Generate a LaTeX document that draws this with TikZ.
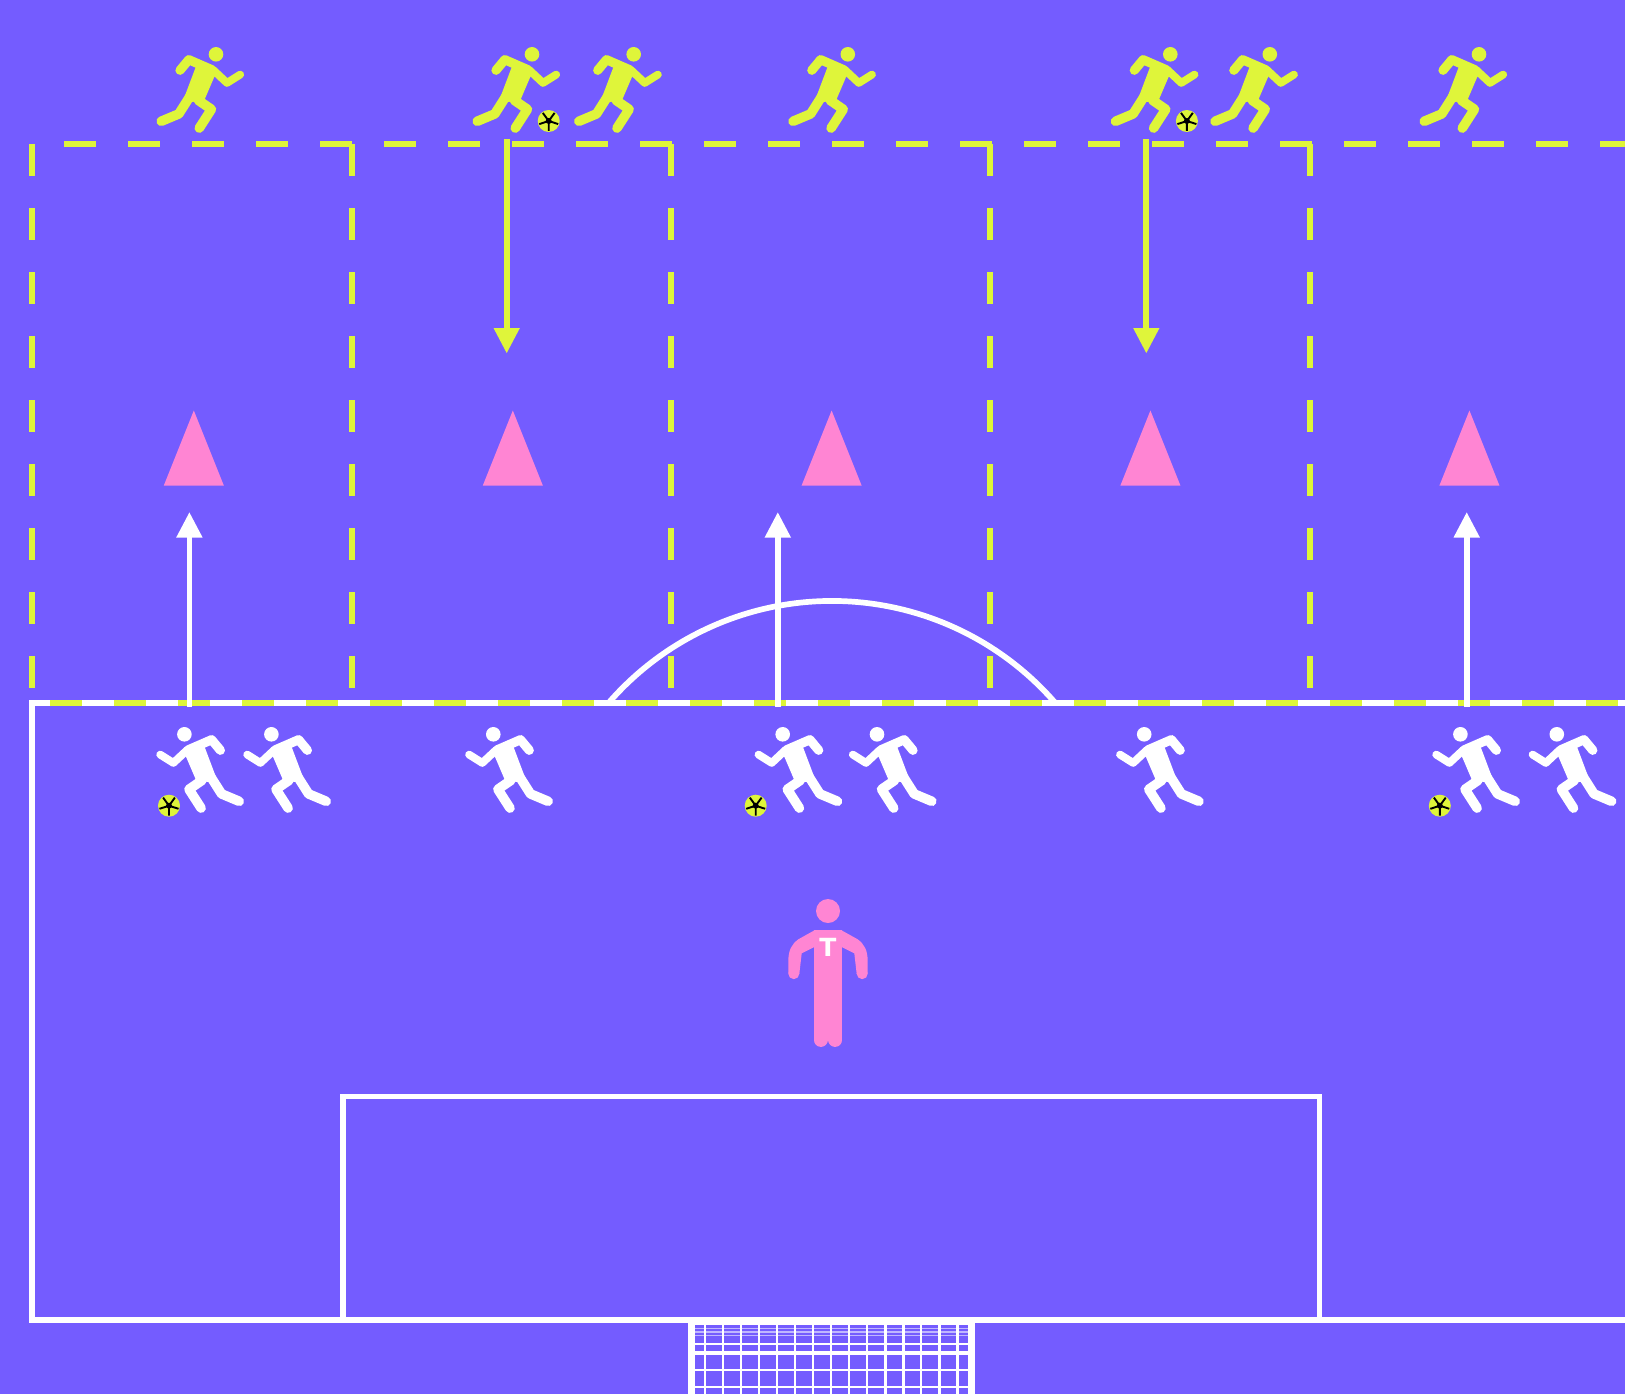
\documentclass[tikz,border=0pt]{standalone}
\usepackage{fontspec}
\newfontfamily\markfont{DejaVu Sans}
\definecolor{pitchbg}{HTML}{745CFF}
\definecolor{limeline}{HTML}{DFF53A}
\definecolor{conepink}{HTML}{FF85D3}
\usetikzlibrary{arrows.meta}

\tikzset{
    runner/.pic={
        \fill (0,0) circle[radius=7.3];
        \fill (-26,2) -- (2.7,16) -- (-2,23.3) -- (-11.7,46) -- (-24.3,47.7) -- (-31.3,42) -- (-20,12) -- cycle;
        \draw[limb, line width=9.2pt] (-36,16) -- (-27.2,5.4) -- (-4,15.5);
        \draw[limb, line width=7.8pt] (-3,15.5) -- (11,28.6) -- (24.2,20.3);
        \draw[limb, line width=9.6pt] (-24.3,39.3) -- (-37.2,59.6) -- (-54.8,67);
        \draw[limb, line width=9.6pt] (-17.7,46) -- (-4.6,55) -- (-16.7,73.8);
    },
    ball/.pic={
        \fill[limeline] (0,0) circle[radius=11];
        \fill[black] (0,0) circle[radius=3];
        \draw[black, line width=1.9pt] (0,10) -- (0,0) -- (-9.5,3.1) (0,0) -- (-5.9,-8.1)
            (0,0) -- (5.9,-8.1) (0,0) -- (9.5,3.1);
    },
    cone/.pic={
        \fill[conepink] (0,0) -- (30,75) -- (-30,75) -- cycle;
    }
}

\begin{document}
\begin{tikzpicture}[
            x=1pt, y=-1pt,
            >={Triangle[length=25.5pt,width=24.6pt]},
            % --- line styles ---
            pitchline/.style={draw=white, line width=5.7pt},
            zoneline/.style={draw=limeline, line width=5.8pt, dash pattern=on 32pt off 32pt},
            limb/.style={line cap=round, line join=round},
            % --- edge styles ---
            runarr/.style={->, white, line width=5.8pt},
            passarr/.style={->, limeline, line width=5.8pt},
            % --- net styles ---
            netpost/.style={draw=white, line width=6.6pt},
            netline/.style={draw=white, line width=2.4pt},
            netfaint/.style={draw=white!55!pitchbg, line width=1.3pt},
            % --- text style ---
            coachmark/.style={font=\markfont\bfseries\fontsize{25}{25}\selectfont, text=white, inner sep=0pt}
        ]

        % --- Background ---
        \fill[pitchbg] (0,0) rectangle (1625,1394);
        \useasboundingbox (0,0) rectangle (1625,1394);

        % ===== Zones =====
        \draw[zoneline] (64,144) -- (1625,144);
        \draw[zoneline] (32,144) -- (32,704);
        \draw[zoneline] (351.7,144) -- (351.7,704);
        \draw[zoneline] (670.8,144) -- (670.8,704);
        \draw[zoneline] (990.1,144) -- (990.1,704);
        \draw[zoneline] (1310,144) -- (1310,704);

        % ===== Pitch markings =====
        \draw[pitchline] (1625,703) -- (32,703) -- (32,1320) -- (1625,1320);
        \draw[pitchline] (343,1096.5) rectangle (1319.5,1320);
        \coordinate (arcleft) at (608.5,703);
        \draw[pitchline] (arcleft) arc[start angle=139.1, end angle=40.9, radius=295.6pt];
        \draw[zoneline] (50,703) -- (1625,703);

        % ===== Goal net =====
        \draw[netfaint] (695,1328.5) -- (968,1328.5);
        \draw[netfaint] (695,1332) -- (968,1332);
        \draw[netfaint] (695,1335.5) -- (968,1335.5);
        \draw[netline] (691,1323.5) -- (971,1323.5);
        \draw[netline] (691,1344.2) -- (971,1344.2);
        \draw[netline, line width=4pt] (691,1352.7) -- (971,1352.7);
        \draw[netline] (691,1370) -- (971,1370);
        \draw[netline] (691,1387) -- (971,1387);
        \draw[netline] (705,1322) -- (705,1394);
        \draw[netline] (723.2,1322) -- (723.2,1394);
        \draw[netline] (741,1322) -- (741,1394);
        \draw[netline] (759,1322) -- (759,1394);
        \draw[netline] (777.2,1322) -- (777.2,1394);
        \draw[netline] (795.2,1322) -- (795.2,1394);
        \draw[netline] (813,1322) -- (813,1394);
        \draw[netline] (831.2,1322) -- (831.2,1394);
        \draw[netline] (849.2,1322) -- (849.2,1394);
        \draw[netline] (867,1322) -- (867,1394);
        \draw[netline] (885.5,1322) -- (885.5,1394);
        \draw[netline] (903.3,1322) -- (903.3,1394);
        \draw[netline] (921,1322) -- (921,1394);
        \draw[netline] (939.5,1322) -- (939.5,1394);
        \draw[netline] (957.3,1322) -- (957.3,1394);
        \draw[netpost] (691.6,1320) -- (691.6,1394);
        \draw[netpost] (971.4,1320) -- (971.4,1394);

        % ===== Cones =====
        \pic (coneA) at (193.8,410.5) {cone};
        \pic (coneB) at (512.8,410.5) {cone};
        \pic (coneC) at (831.6,410.5) {cone};
        \pic (coneD) at (1150.4,410.5) {cone};
        \pic (coneE) at (1469.4,410.5) {cone};

        % ===== Arrows =====
        \coordinate (passAtop) at (506.7,139.5);
        \coordinate (passAend) at (506.7,353.5);
        \coordinate (passBtop) at (1146.3,139.5);
        \coordinate (passBend) at (1146.3,353.5);
        \draw[passarr] (passAtop) -- (passAend);
        \draw[passarr] (passBtop) -- (passBend);

        \coordinate (runAbase) at (189.4,706.7);
        \coordinate (runAend) at (189.4,512);
        \coordinate (runBbase) at (777.8,706.7);
        \coordinate (runBend) at (777.8,512);
        \coordinate (runCbase) at (1466.7,706.7);
        \coordinate (runCend) at (1466.7,512);
        \draw[runarr] (runAbase) -- (runAend);
        \draw[runarr] (runBbase) -- (runBend);
        \draw[runarr] (runCbase) -- (runCend);

        % ===== Top row =====
        \pic[limeline] (topA) at (216,54.3) {runner};
        \pic[limeline] (topB) at (532,54.3) {runner};
        \pic[limeline] (topC) at (633.7,54.3) {runner};
        \pic[limeline] (topD) at (847.8,54.3) {runner};
        \pic[limeline] (topE) at (1170.3,54.3) {runner};
        \pic[limeline] (topF) at (1269.8,54.3) {runner};
        \pic[limeline] (topG) at (1479,54.3) {runner};
        \pic (ballA) at (548.7,121) {ball};
        \pic (ballB) at (1186.9,121) {ball};

        % ===== Bottom row =====
        \pic[white, xscale=-1] (lowA) at (184.4,734.3) {runner};
        \pic[white, xscale=-1] (lowB) at (271.4,734.3) {runner};
        \pic[white, xscale=-1] (lowC) at (493.3,734.3) {runner};
        \pic[white, xscale=-1] (lowD) at (782.7,734.3) {runner};
        \pic[white, xscale=-1] (lowE) at (877,734.3) {runner};
        \pic[white, xscale=-1] (lowF) at (1144.2,734.3) {runner};
        \pic[white, xscale=-1] (lowG) at (1460.4,734.3) {runner};
        \pic[white, xscale=-1] (lowH) at (1556.8,734.3) {runner};
        \pic (ballC) at (169,805.7) {ball};
        \pic (ballD) at (755.7,805.7) {ball};
        \pic (ballE) at (1439.8,805.7) {ball};

        % ===== Trainer =====
        \fill[conepink] (828,911) circle[radius=12];
        \fill[conepink] (814,930) -- (842,930) -- (842,995) -- (814,995) -- cycle;
        \draw[conepink, limb, line width=13.8pt] (820.7,992) -- (820.7,1040);
        \draw[conepink, limb, line width=13.8pt] (835.3,992) -- (835.3,1040);
        \fill[conepink] (815,930) -- (798.3,939.3) .. controls (791.7,944.3) and (788.3,950) .. (788.3,961.7)
            -- (788.3,973.3) -- (799.3,974) -- (801.7,953.3) -- (815,946.7) -- cycle;
        \fill[conepink] (793.8,973.6) circle[radius=5.55];
        \fill[conepink] (841,930) -- (857.7,939.3) .. controls (864.3,944.3) and (867.7,950) .. (867.7,961.7)
            -- (867.7,973.3) -- (856.7,974) -- (854.3,953.3) -- (841,946.7) -- cycle;
        \fill[conepink] (862.2,973.6) circle[radius=5.55];
        \node[coachmark] (trainermark) at (828,947.3) {T};

        \end{tikzpicture}
\end{document}
